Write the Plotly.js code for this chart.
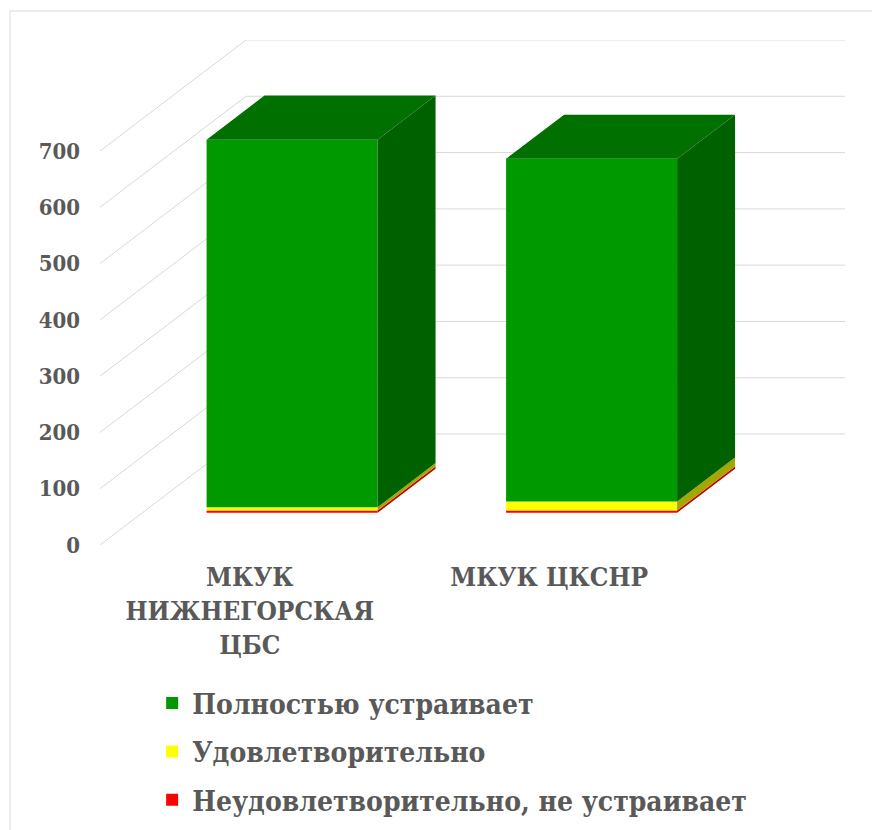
<!DOCTYPE html>
<html>
<head>
<meta charset="utf-8">
<script src="https://cdn.plot.ly/plotly-3.0.1.min.js"></script>
<style>html,body{margin:0;padding:0;background:#fff;}#chart{width:872px;height:830px;}</style>
</head>
<body>
<div id="chart"></div>
<script>
// ---- data ----
const categories = ['МКУК НИЖНЕГОРСКАЯ ЦБС', 'МКУК ЦКСНР'];
const categoryTickText = ['МКУК<br>НИЖНЕГОРСКАЯ<br>ЦБС', 'МКУК ЦКСНР'];
const seriesNames = ['Полностью устраивает', 'Удовлетворительно', 'Неудовлетворительно, не устраивает'];
const fullySatisfied = [653, 609];
const satisfactory = [6, 16];
const unsatisfactory = [4, 4];
const yTickValues = [0, 100, 200, 300, 400, 500, 600, 700];

// ---- oblique 3D geometry (style constants) ----
const DX = 0.4875;   // full depth, x units
const DY = 197.2;    // full depth, value units
const F = 0.29;      // bar front face depth fraction
const BD = 0.397;    // bar depth fraction
const W = 0.571;     // bar width
const bdx = BD * DX, bdy = BD * DY;
const yTop = yTickValues[yTickValues.length - 1] + DY;

const FAMILY = 'DejaVu Serif Condensed, DejaVu Serif';
const FONT_Y = {family: FAMILY, size: 22, color: '#595959', weight: 'bold'};
const FONT_X = {family: FAMILY, size: 26, color: '#595959', weight: 'bold'};
const FONT_L = {family: FAMILY, size: 28, color: '#595959', weight: 'bold'};

// stacking bottom -> top
const stack = [
  {name: seriesNames[2], vals: unsatisfactory, front: '#FF0000', side: '#C00000', rank: 3},
  {name: seriesNames[1], vals: satisfactory, front: '#FFFF00', side: '#A6A600', rank: 2},
  {name: seriesNames[0], vals: fullySatisfied, front: '#009900', side: '#006100', top: '#007000', rank: 1}
];

const barTraces = [], faceTraces = [];
let cum = categories.map(() => 0);
stack.forEach((L, i) => {
  const base = cum.map(c => c + F * DY);
  const xs = categories.map((_, j) => j + F * DX);
  barTraces.push({
    type: 'bar', x: xs, y: L.vals, base: base, width: W,
    marker: {color: L.front, line: {width: 0}},
    name: L.name, legendgroup: 'g' + L.rank, legendrank: L.rank, hoverinfo: 'skip'
  });
  const sx = [], sy = [];
  categories.forEach((_, j) => {
    const xr = xs[j] + W / 2, b = base[j], t = b + L.vals[j];
    sx.push(xr, xr, xr + bdx, xr + bdx, null);
    sy.push(b, t, t + bdy, b + bdy, null);
  });
  faceTraces.push({type: 'scatter', mode: 'none', fill: 'toself', fillcolor: L.side,
    x: sx, y: sy, showlegend: false, hoverinfo: 'skip'});
  if (L.top) {
    const tx = [], ty = [];
    categories.forEach((_, j) => {
      const xl = xs[j] - W / 2, xr = xs[j] + W / 2, t = base[j] + L.vals[j];
      tx.push(xl, xl + bdx, xr + bdx, xr, null);
      ty.push(t, t + bdy, t + bdy, t, null);
    });
    faceTraces.push({type: 'scatter', mode: 'none', fill: 'toself', fillcolor: L.top,
      x: tx, y: ty, showlegend: false, hoverinfo: 'skip'});
  }
  cum = cum.map((c, j) => c + L.vals[j]);
});

// gridlines on left wall + back wall
const xFront0 = -0.5, xFront1 = categories.length - 0.5;
const shapes = yTickValues.map(v => ({
  type: 'path', xref: 'x', yref: 'y', layer: 'below',
  path: `M ${xFront0},${v} L ${xFront0 + DX},${v + DY} L ${xFront1 + DX},${v + DY}`,
  line: {color: '#D9D9D9', width: 1}
}));
// chart area border
shapes.push({type: 'rect', xref: 'paper', yref: 'paper', x0: -0.1208, x1: 1.3, y0: -0.8, y1: 1.0574,
  line: {color: '#D9D9D9', width: 1}, layer: 'below'});

const layout = {
  width: 872, height: 830,
  margin: {l: 100, r: 27, t: 40, b: 285, autoexpand: false},
  paper_bgcolor: '#fff', plot_bgcolor: 'rgba(0,0,0,0)',
  barmode: 'overlay', hovermode: false,
  showlegend: true,
  xaxis: {range: [xFront0, xFront1 + DX], tickvals: categories.map((_, j) => j), ticktext: categoryTickText,
    showgrid: false, zeroline: false, showline: false, ticks: '', tickfont: FONT_X, ticklabelstandoff: 14, fixedrange: true, automargin: false},
  yaxis: {range: [0, yTop], tickvals: yTickValues, showgrid: false, zeroline: false, showline: false,
    ticks: '', tickfont: FONT_Y, ticklabelstandoff: 19, fixedrange: true, automargin: false},
  legend: {x: 0.07, xanchor: 'left', y: -0.264, yanchor: 'top', traceorder: 'grouped',
    tracegroupgap: 9, bgcolor: 'rgba(0,0,0,0)', font: FONT_L},
  shapes: shapes
};

Plotly.newPlot('chart', barTraces.concat(faceTraces), layout, {displayModeBar: false, staticPlot: true});
</script>
</body>
</html>
